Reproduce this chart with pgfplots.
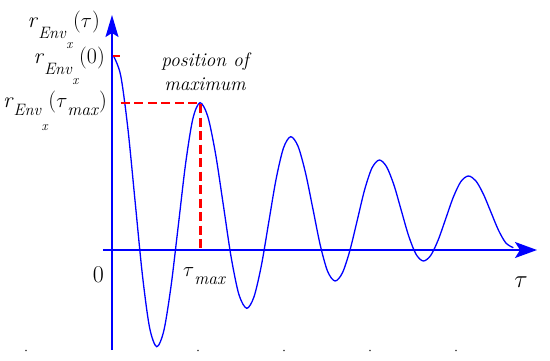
\documentclass[border=0pt]{standalone}
\usepackage{pgfplots}
\pgfplotsset{compat=1.18}
\usetikzlibrary{arrows.meta}

% r_{Env_x} with big, lowered subscripts (MathType look)
\newcommand{\rEnv}[2]{\textit{r}\raisebox{-#1}{\fontsize{16.5}{16.5}\selectfont\textit{Env}}\raisebox{-#2}{\fontsize{13.5}{13.5}\selectfont\textit{x}}}
\newcommand{\sub}[1]{\raisebox{-8pt}{\fontsize{17.5}{17.5}\selectfont\textit{#1}}}

\begin{document}
\begin{tikzpicture}
\begin{axis}[x=1pt, y=1pt, anchor=origin, at={(0,0)},
  xmin=-9, xmax=425, ymin=-100, ymax=235, enlargelimits=false,
  axis lines=middle, xtick=\empty, ytick=\empty, clip=false,
  x axis line style={blue, line width=1.6pt, -{Stealth[length=22pt,width=16pt,inset=5pt]}},
  y axis line style={blue, line width=1.6pt, -{Stealth[length=22pt,width=13pt,inset=4pt]}}]

% damped envelope autocorrelation
\addplot[blue, line width=1.3pt, smooth] coordinates {
(1.5,194) (8.7,174.5) (15.9,121.3) (23.1,48.6) (30.3,-24.0) (37.5,-77.2) (44.7,-96.7)
(51.9,-80.4) (59.1,-35.7) (66.4,25.3) (73.6,86.3) (80.8,131.0) (88,147.3)
(95.8,133.5) (103.6,95.9) (111.4,44.5) (119.1,-6.9) (126.9,-44.5) (134.7,-58.3)
(142.0,-46.8) (149.4,-15.4) (156.7,27.5) (164.0,70.4) (171.4,101.8) (178.7,113.3)
(186.1,103.6) (193.5,77.2) (200.9,41.2) (208.2,5.1) (215.6,-21.3) (223,-31)
(230.4,-22.9) (237.8,-0.8) (245.2,29.5) (252.5,59.8) (259.9,81.9) (267.3,90)
(274.6,83.2) (282.0,64.8) (289.3,39.5) (296.6,14.3) (304.0,-4.2) (311.3,-11)
(318.8,-5.3) (326.3,10.3) (333.8,31.5) (341.3,52.8) (348.8,68.3) (356.3,74)
(363.8,69.2) (371.3,56.1) (378.8,38.2) (386.3,20.2) (393.8,7.1) (401.3,2.3)};

% markers for r(0) and the maximum
\addplot[red, line width=2.2pt, dash pattern=on 9pt off 4.5pt] coordinates {(1,194) (8,194)};
\addplot[red, line width=2.2pt, dash pattern=on 9pt off 4.5pt] coordinates {(9,147.3) (88.5,147.3) (88.5,0)};

% leftover tick dots at the bottom edge
\addplot[only marks, mark=*, mark size=0.7pt, black!70] coordinates {(-86,-100.5) (86,-100.5) (172,-100.5) (258,-100.5) (344,-100.5)};

\node[anchor=base east, inner sep=0, font=\fontsize{22}{22}\selectfont] at (axis cs:-12,223) {\rEnv{11pt}{21pt}($\tau$)};
\node[anchor=base east, inner sep=0, font=\fontsize{22}{22}\selectfont] at (axis cs:-7,187) {\rEnv{11pt}{21pt}(0)};
\node[anchor=base east, inner sep=0, font=\fontsize{22}{22}\selectfont] at (axis cs:-5,143) {\rEnv{8pt}{23pt}($\tau$\sub{max})};
\node[anchor=base, inner sep=0, font=\fontsize{19.5}{19.5}\selectfont\itshape] at (axis cs:93,183.3) {position of};
\node[anchor=base, inner sep=0, font=\fontsize{19.5}{19.5}\selectfont\itshape] at (axis cs:93,160) {maximum};
\node[anchor=center, inner sep=0, font=\fontsize{24}{24}\selectfont] at (axis cs:-13.6,-25) {0};
\node[anchor=base west, inner sep=0, font=\fontsize{22}{22}\selectfont] at (axis cs:71,-26.7) {$\tau$\sub{max}};
\node[anchor=base, inner sep=0, font=\fontsize{24}{24}\selectfont] at (axis cs:409,-37) {$\tau$};

\coordinate (bl) at (axis cs:-112,-110);
\coordinate (tr) at (axis cs:438,250);
\end{axis}
\pgfresetboundingbox
\useasboundingbox (bl) rectangle (tr);
\end{tikzpicture}
\end{document}
